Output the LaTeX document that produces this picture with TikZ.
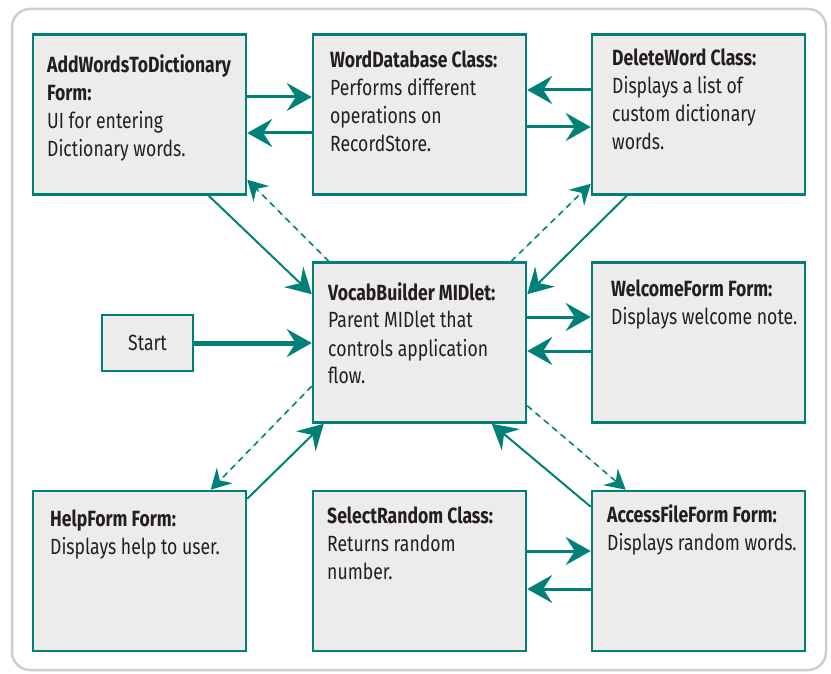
\documentclass[tikz,border=0pt]{standalone}
\usepackage{fontspec}
\setmainfont{Fira Sans}[FakeStretch=0.8]
\usetikzlibrary{arrows.meta}
\definecolor{teal}{RGB}{0,128,118}
\definecolor{boxfill}{RGB}{237,236,235}
\definecolor{frame}{RGB}{206,206,206}
\definecolor{ink}{RGB}{35,31,32}
\tikzset{
  box/.style={draw=teal, line width=2.5pt, fill=boxfill, inner sep=0pt,
    minimum width=213pt, minimum height=160pt},
  txt/.style={anchor=base west, inner sep=0pt, text=ink,
    font=\fontsize{22}{28}\selectfont},
  bigtip/.style={-{Stealth[length=25pt, width=28pt, inset=9pt]}},
  smalltip/.style={-{Stealth[length=20pt, width=22pt, inset=7pt]}},
  link/.style={draw=teal, fill=teal, line width=3pt, bigtip},
  diag/.style={draw=teal, fill=teal, line width=2pt, bigtip},
  dashlink/.style={draw=teal, fill=teal, line width=1.6pt, dash pattern=on 6pt off 5pt, smalltip},
}
\newcommand{\boxtext}[1]{\parbox[t]{205pt}{\raggedright #1}}
\begin{document}
\begin{tikzpicture}[x=1pt, y=-1pt]
\useasboundingbox (0,0) rectangle (831,674);
% outer frame
\draw[frame, line width=2.5pt, rounded corners=18pt] (12,9) rectangle (826,670);

% boxes
\node[box] (aw) at (139.5,114.5) {};
\node[box] (wd) at (419.5,114.5) {};
\node[box] (dw) at (698.5,114.5) {};
\node[box] (vb) at (419.5,342.5) {};
\node[box] (wf) at (698.5,342.5) {};
\node[box] (hf) at (139.5,571) {};
\node[box] (sr) at (419.5,571) {};
\node[box] (af) at (698.5,571) {};
\node[draw=teal, line width=2.5pt, fill=boxfill, minimum width=91pt, minimum height=56pt,
  inner sep=0pt, text=ink, font=\fontsize{22}{24}\selectfont] (st) at (147.5,343) {Start};

% box texts
\node[txt] (awt) at (47,73) {\boxtext{\textbf{AddWordsToDictionary}\\\textbf{Form:}\\UI for entering\\Dictionary words.}};
\node[txt] (wdt) at (330,68) {\boxtext{\textbf{WordDatabase Class:}\\Performs different\\operations on\\RecordStore.}};
\node[txt] (dwt) at (612,66) {\boxtext{\textbf{DeleteWord Class:}\\Displays a list of\\custom dictionary\\words.}};
\node[txt] (vbt) at (328,300) {\boxtext{\textbf{VocabBuilder MIDlet:}\\Parent MIDlet that\\controls application\\flow.}};
\node[txt] (wft) at (611,297) {\boxtext{\textbf{WelcomeForm Form:}\\Displays welcome note.}};
\node[txt] (hft) at (50,526) {\boxtext{\textbf{HelpForm Form:}\\Displays help to user.}};
\node[txt] (srt) at (327,523) {\boxtext{\textbf{SelectRandom Class:}\\Returns random\\number.}};
\node[txt] (aft) at (607,522) {\boxtext{\textbf{AccessFileForm Form:}\\Displays random words.}};

% horizontal links
\draw[link] ([yshift=17.5pt]aw.east) -- ([yshift=17.5pt]wd.west);
\draw[link] ([yshift=-18.5pt]wd.west) -- ([yshift=-18.5pt]aw.east);
\draw[link] ([yshift=24.5pt]dw.west) -- ([yshift=24.5pt]wd.east);
\draw[link] ([yshift=-12.5pt]wd.east) -- ([yshift=-12.5pt]dw.west);
\draw[link] ([yshift=25.5pt]vb.east) -- ([yshift=25.5pt]wf.west);
\draw[link] ([yshift=-8.5pt]wf.west) -- ([yshift=-8.5pt]vb.east);
\draw[link] ([yshift=20pt]sr.east) -- ([yshift=20pt]af.west);
\draw[link] ([yshift=-18pt]af.west) -- ([yshift=-18pt]sr.east);
\draw[link, line width=5pt] (st.east) -- (st.east -| vb.west);

% diagonal links
\draw[diag] ([xshift=177pt]aw.south west) -- ([yshift=-33pt]vb.north west);
\draw[diag] ([xshift=36pt]dw.south west) -- ([yshift=-33pt]vb.north east);
\draw[diag] ([yshift=-9pt]hf.north east) -- ([xshift=12pt]vb.south west);
\draw[diag] ([yshift=-17pt]af.north west) -- ([xshift=180pt]vb.south west);

% dashed links
\draw[dashlink] ([xshift=17pt]vb.north west) -- ([yshift=16pt]aw.south east);
\draw[dashlink] ([xshift=-16pt]vb.north east) -- ([yshift=12pt]dw.south west);
\draw[dashlink] ([yshift=-125pt]vb.north west) -- ([xshift=179pt]hf.north west);
\draw[dashlink] ([yshift=18pt]vb.south east) -- ([xshift=35pt]af.north west);
\end{tikzpicture}
\end{document}
